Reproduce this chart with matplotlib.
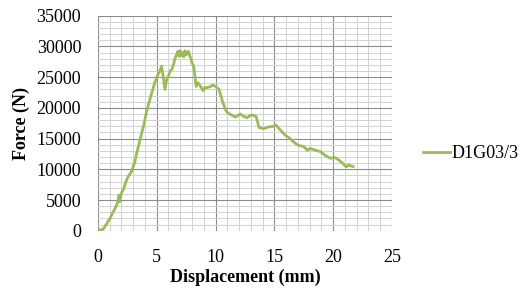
import matplotlib
matplotlib.use("Agg")
import matplotlib.pyplot as plt
from matplotlib.ticker import MultipleLocator

# force-displacement curve
displacement = [0.0, 0.2, 0.43, 0.7, 1.0, 1.25, 1.45, 1.6, 1.73, 1.8, 1.85, 2.0, 2.2, 2.45, 2.6,
                2.75, 2.87, 3.0, 3.15, 3.3, 3.58, 3.9, 4.15, 4.5, 4.85, 5.1, 5.25, 5.42,
                5.55, 5.7, 5.85, 6.0, 6.15, 6.3, 6.45, 6.55, 6.7, 6.8, 6.9, 7.0, 7.1, 7.2,
                7.3, 7.4, 7.5, 7.6, 7.7, 7.8, 7.9, 8.0, 8.15, 8.35, 8.5, 8.7, 8.95, 9.1,
                9.3, 9.6, 9.75, 10.0, 10.3, 10.6, 10.9, 11.1, 11.4, 11.7, 12.1, 12.4, 12.7,
                12.95, 13.2, 13.45, 13.7, 14.1, 14.5, 14.9, 15.15, 15.5, 15.9, 16.35,
                16.6, 17.05, 17.5, 17.8, 18.05, 18.5, 18.9, 19.3, 19.75, 20.1, 20.5, 20.8,
                21.1, 21.3, 21.7]
force = [0, 150, 200, 1000, 1900, 2900, 3600, 4200, 5000, 5800, 4700, 6100, 6900, 8300, 8900,
         9300, 9700, 10400, 11300, 12600, 14800, 17200, 19500, 21900, 24200, 25400, 25900,
         26800, 25200, 23000, 24600, 25200, 26000, 26300, 27200, 28000, 28700, 29200,
         28400, 29300, 28500, 29000, 28300, 29300, 28600, 28900, 29200, 28500, 28100,
         27300, 26800, 23500, 24100, 23600, 22800, 23300, 23300, 23500, 23700, 23500,
         23000, 21000, 19500, 19100, 18800, 18500, 19000, 18600, 18400, 18800, 18800,
         18600, 16800, 16600, 16900, 17000, 17200, 16400, 15600, 15000, 14500, 13900,
         13700, 13100, 13400, 13100, 12900, 12300, 11800, 11950, 11500, 11000, 10400,
         10700, 10450]
series_label = "D1G03/3"

plt.rcParams["font.family"] = ["Liberation Serif", "DejaVu Serif"]

fig = plt.figure(figsize=(5.29, 2.91), dpi=100)
ax = fig.add_axes([0.185, 0.207, 0.556, 0.739])

ax.plot(displacement, force, color="#9BBB59", lw=2.0, label=series_label)

ax.set_xlim(0, 25)
ax.set_ylim(0, 35000)
ax.xaxis.set_major_locator(MultipleLocator(5))
ax.xaxis.set_minor_locator(MultipleLocator(1))
ax.yaxis.set_major_locator(MultipleLocator(5000))
ax.yaxis.set_minor_locator(MultipleLocator(1000))
ax.grid(which="major", color="#8c8c8c", lw=0.8)
ax.grid(which="minor", color="#d2d2d2", lw=0.7)
ax.set_axisbelow(True)
for s in ax.spines.values():
    s.set_visible(False)
ax.tick_params(axis="y", which="both", length=0, labelsize=13, pad=12)
ax.tick_params(axis="x", which="both", length=0, labelsize=13, pad=13)

ax.set_xlabel("Displacement (mm)", fontsize=13, fontweight="bold", labelpad=2)
ax.set_ylabel("Force (N)", fontsize=13, fontweight="bold", labelpad=5)

ax.legend(loc="center left", bbox_to_anchor=(1.05, 0.36), frameon=False,
          fontsize=13, handlelength=1.5, handletextpad=0.1)

fig.savefig("out.png", dpi=100)
